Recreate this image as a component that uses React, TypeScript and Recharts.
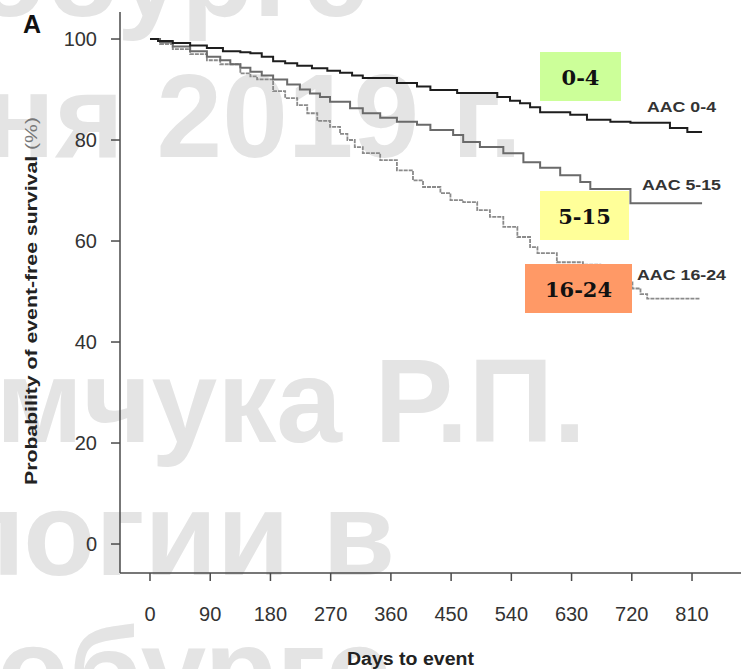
import React from 'react';
import { LineChart, Line, XAxis, YAxis, Label } from 'recharts';

// Axis ticks
const dayTicks = [0, 90, 180, 270, 360, 450, 540, 630, 720, 810];
const survivalTicks = [0, 20, 40, 60, 80, 100];

// Kaplan–Meier steps, AAC 0-4
const aac04Days = [0, 12, 34, 60, 85, 109, 135, 150, 167, 184, 202, 220, 242, 265, 284, 302, 318, 369, 399, 419, 459, 519, 538, 553, 568, 583, 628, 653, 688, 718, 777, 803, 825];
const aac04Survival = [100, 99.6, 99.2, 98.7, 98.2, 97.6, 97.4, 97.2, 96.5, 95.6, 95.2, 94.7, 94.2, 93.7, 93.3, 92.8, 92.3, 91.3, 90.6, 89.9, 89.3, 88.5, 87.8, 87.3, 86.5, 85.5, 85.0, 84.0, 83.6, 83.4, 82.4, 81.6, 81.6];

// AAC 5-15
const aac515Days = [0, 15, 34, 60, 85, 105, 120, 135, 150, 167, 184, 205, 224, 239, 254, 269, 299, 318, 344, 369, 399, 419, 453, 468, 493, 528, 558, 583, 613, 643, 658, 718, 825];
const aac515Survival = [100, 99.3, 98.5, 97.6, 96.5, 95.8, 95.0, 94.3, 93.5, 92.8, 92.0, 91.0, 90.0, 89.2, 88.5, 87.6, 86.3, 85.3, 84.4, 83.6, 83.0, 82.0, 81.0, 79.6, 78.6, 77.4, 75.6, 74.5, 73.0, 71.7, 70.3, 67.5, 67.5];

// AAC 16-24
const aac1624Days = [0, 15, 34, 60, 85, 105, 135, 150, 160, 184, 202, 220, 235, 250, 269, 284, 295, 306, 318, 344, 369, 393, 408, 434, 449, 468, 489, 508, 528, 549, 568, 579, 608, 647, 673, 695, 721, 733, 743, 822];
const aac1624Survival = [100, 99.0, 98.0, 97.0, 95.8, 95.0, 93.2, 92.6, 92.0, 89.7, 88.3, 86.9, 85.3, 83.8, 82.6, 81.2, 80.0, 78.6, 77.4, 76.0, 74.0, 72.0, 70.7, 69.5, 68.1, 67.7, 66.1, 64.8, 62.8, 60.8, 58.8, 57.6, 55.8, 55.3, 53.5, 52.0, 50.6, 49.5, 48.6, 48.5];

const seriesNames = ['AAC 0-4', 'AAC 5-15', 'AAC 16-24'];
const groupTags = ['0-4', '5-15', '16-24'];

const zip = (days: number[], vals: number[]) => days.map((d, i) => ({ day: d, v: vals[i] }));
const data04 = zip(aac04Days, aac04Survival);
const data515 = zip(aac515Days, aac515Survival);
const data1624 = zip(aac1624Days, aac1624Survival);

const W = 741;
const H = 669;
const SANS = '"Liberation Sans", Arial, Helvetica, sans-serif';
const AXIS = '#4a4a4a';

const Watermark = () => (
  <svg width={W} height={H} style={{ position: 'absolute', left: 0, top: 0 }}>
    <g fill="#e4e4e4" fontFamily={SANS} fontWeight="bold" fontSize={118}>
      <text x={368} y={16} textAnchor="end">обурге</text>
      <text x={522} y={157} textAnchor="end">ня 2019 г.</text>
      <text x={586} y={442} textAnchor="end">мчука Р.П.</text>
      <text x={395} y={575} textAnchor="end">логии в</text>
      <text x={-3} y={711}>обурге</text>
    </g>
  </svg>
);

const Overlay = () => (
  <svg width={W} height={H} style={{ position: 'absolute', left: 0, top: 0 }}>
    <text x={23} y={33} fontFamily={SANS} fontWeight="bold" fontSize={25} fill="#111">A</text>
    <rect x={540} y={52} width={81} height={49} fill="#ccff99" />
    <rect x={540} y={191} width={89} height={49} fill="#ffff99" />
    <rect x={525} y={264} width={107} height={49} fill="#ff9966" />
    <g fontFamily='"DejaVu Serif", "Liberation Serif", serif' fontWeight="bold" fontSize={21} fill="#111" textAnchor="middle">
      <text x={580.5} y={85}>{groupTags[0]}</text>
      <text x={584.5} y={224}>{groupTags[1]}</text>
      <text x={578.5} y={297}>{groupTags[2]}</text>
    </g>
    <g fontFamily={SANS} fontWeight="bold" fontSize={15.5} fill="#333">
      <text x={647} y={112} textLength={69} lengthAdjust="spacingAndGlyphs">{seriesNames[0]}</text>
      <text x={642} y={190} textLength={79} lengthAdjust="spacingAndGlyphs">{seriesNames[1]}</text>
      <text x={637} y={280} textLength={89} lengthAdjust="spacingAndGlyphs">{seriesNames[2]}</text>
    </g>
  </svg>
);

const YTitle = () => {
  const cx = 31;
  const cy = 301;
  return (
    <text
      x={cx}
      y={cy}
      transform={`rotate(-90 ${cx} ${cy})`}
      textAnchor="middle"
      dominantBaseline="central"
      fontFamily={SANS}
      fontSize={16}
      fill="#222"
      textLength={368}
      lengthAdjust="spacingAndGlyphs"
    >
      <tspan fontWeight="bold">Probability of event-free survival </tspan>
      <tspan fill="#777">(%)</tspan>
    </text>
  );
};

const XTitle = (props: any) => {
  const vb = props.viewBox || { x: 120, y: 573 };
  return (
    <text
      x={vb.x + 227}
      y={vb.y + 92}
      fontFamily={SANS}
      fontWeight="bold"
      fontSize={18}
      fill="#222"
      textLength={127}
      lengthAdjust="spacingAndGlyphs"
    >
      Days to event
    </text>
  );
};

const tickStyle = { fill: '#333', fontSize: 20, fontFamily: SANS };

export default function App() {
  return (
    <div style={{ position: 'absolute', left: 0, top: 0, width: W, height: H, background: '#fff', overflow: 'hidden' }}>
      <Watermark />
      <div style={{ position: 'absolute', left: 0, top: 0 }}>
        <LineChart width={W} height={H} margin={{ top: 12, right: 0, bottom: 0, left: 0 }}>
          <XAxis
            xAxisId="main"
            type="number"
            dataKey="day"
            domain={[-44.83, 883.2]}
            ticks={dayTicks}
            allowDataOverflow
            height={96}
            tickSize={8}
            tickMargin={26}
            stroke={AXIS}
            strokeWidth={1.5}
            tick={tickStyle}
          >
            <Label content={<XTitle />} />
          </XAxis>
          <XAxis
            xAxisId="top"
            orientation="top"
            type="number"
            dataKey="day"
            domain={[-44.83, 883.2]}
            height={0}
            tick={false}
            tickLine={false}
            stroke={AXIS}
            strokeWidth={1.5}
          />
          <YAxis
            type="number"
            domain={[-5.74, 105.35]}
            ticks={survivalTicks}
            allowDataOverflow
            width={120}
            tickSize={9}
            tickMargin={14}
            stroke={AXIS}
            strokeWidth={1.5}
            tick={tickStyle}
          >
            <Label content={<YTitle />} />
          </YAxis>
          <Line
            xAxisId="main"
            data={data1624}
            dataKey="v"
            name={seriesNames[2]}
            type="stepAfter"
            stroke="#8a8a8a"
            strokeWidth={1.8}
            strokeDasharray="4 1"
            dot={false}
            isAnimationActive={false}
          />
          <Line
            xAxisId="main"
            data={data515}
            dataKey="v"
            name={seriesNames[1]}
            type="stepAfter"
            stroke="#6a6a6a"
            strokeWidth={2}
            dot={false}
            isAnimationActive={false}
          />
          <Line
            xAxisId="main"
            data={data04}
            dataKey="v"
            name={seriesNames[0]}
            type="stepAfter"
            stroke="#1e1e1e"
            strokeWidth={2}
            dot={false}
            isAnimationActive={false}
          />
        </LineChart>
      </div>
      <Overlay />
    </div>
  );
}
